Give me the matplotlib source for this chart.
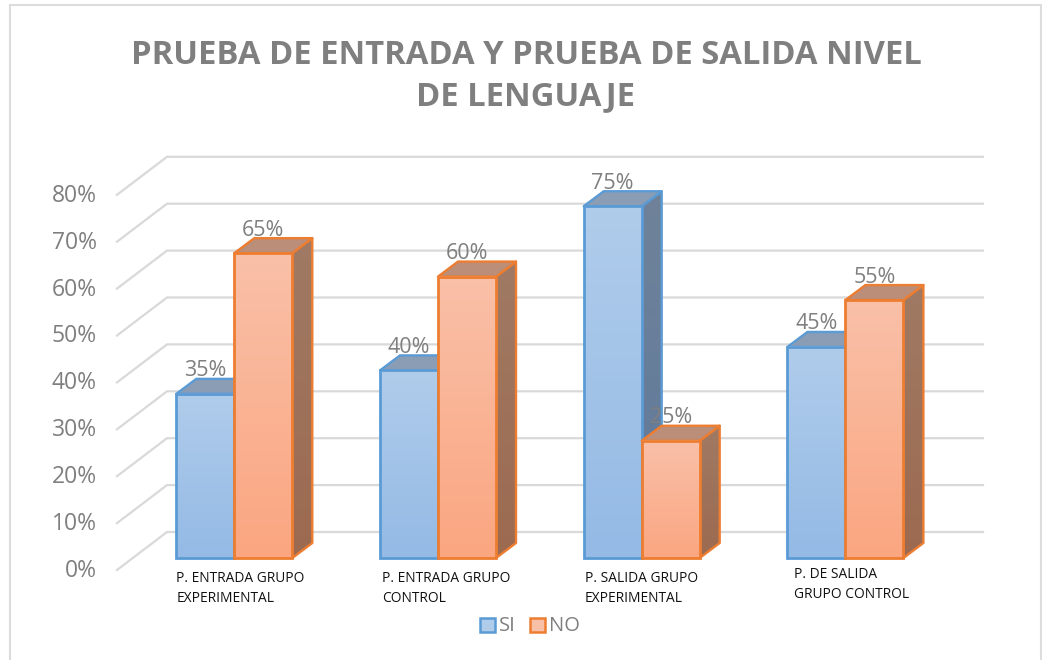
import numpy as np
import matplotlib
matplotlib.use('Agg')
import matplotlib.pyplot as plt
from matplotlib.patches import Polygon, Rectangle
from matplotlib.colors import LinearSegmentedColormap

plt.rcParams['font.family'] = ['Open Sans', 'DejaVu Sans']

categories = ['P. ENTRADA GRUPO\nEXPERIMENTAL', 'P. ENTRADA GRUPO\nCONTROL',
              'P. SALIDA GRUPO\nEXPERIMENTAL', 'P. DE SALIDA\nGRUPO CONTROL']
si_values = [35, 40, 75, 45]
no_values = [65, 60, 25, 55]
y_ticks = [0, 10, 20, 30, 40, 50, 60, 70, 80]
title = 'PRUEBA DE ENTRADA Y PRUEBA DE SALIDA NIVEL\nDE LENGUAJE'

W, H = 1042, 660
X0_PX, Y0_PX = 234.3, 558.0   # where category 0 / value 0 sit on the canvas
X_UNIT, Y_UNIT = 203.7, 4.69  # pixels per category, pixels per percent
BAR_W = 58 / X_UNIT
DX, DY = 20 / X_UNIT, 15 / Y_UNIT   # bar depth


def px_x(d):
    return d / X_UNIT


def px_y(d):
    return d / Y_UNIT


def vgrad(ax, x0, x1, y0, y1, c_bot, c_top, clip=None, z=2):
    # vertical gradient, optionally clipped to a polygon
    cmap = LinearSegmentedColormap.from_list('g', [c_bot, c_top])
    im = ax.imshow(np.linspace(0, 1, 64)[:, None], extent=(x0, x1, y0, y1), origin='lower',
                   cmap=cmap, aspect='auto', zorder=z, interpolation='bilinear')
    if clip is not None:
        im.set_clip_path(clip)
    return im


def bar3d(ax, x, v, front, side, top, edge, z):
    x1 = x + BAR_W
    side_pts = [(x1, 0), (x1 + DX, DY), (x1 + DX, v + DY), (x1, v)]
    top_pts = [(x, v), (x + DX, v + DY), (x1 + DX, v + DY), (x1, v)]
    side_poly = Polygon(side_pts, closed=True, fc='none', ec=edge, lw=1.7, zorder=z + 0.2, joinstyle='round')
    ax.add_patch(side_poly)
    vgrad(ax, x1, x1 + DX, 0, v + DY, side[0], side[1], clip=side_poly, z=z)
    ax.add_patch(Polygon(top_pts, closed=True, fc=top, ec=edge, lw=1.7, zorder=z + 0.2, joinstyle='round'))
    vgrad(ax, x, x1, 0, v, front[0], front[1], z=z + 0.3)
    ax.add_patch(Rectangle((x, 0), BAR_W, v, fc='none', ec=edge, lw=2.0, zorder=z + 0.4))


fig = plt.figure(figsize=(W / 100, H / 100), dpi=100, facecolor='white')
ax = fig.add_axes([0, 0, 1, 1])
ax.set_axis_off()

# chart frame, runs off the bottom of the picture
ax.plot([px_x(10 - X0_PX), px_x(10 - X0_PX), px_x(1041 - X0_PX), px_x(1041 - X0_PX)],
        [px_y(Y0_PX - 670), px_y(Y0_PX - 5), px_y(Y0_PX - 5), px_y(Y0_PX - 670)],
        color='#dcdcdc', lw=1.5, zorder=0, solid_joinstyle='miter')

# back wall gridlines with the slanted part on the left wall
for t in y_ticks:
    yf = px_y(Y0_PX - 570) + t
    yb = px_y(Y0_PX - 532) + t
    ax.plot([px_x(117 - X0_PX), px_x(167 - X0_PX), px_x(983 - X0_PX)], [yf, yb, yb],
            color='#d9d9d9', lw=1.6, zorder=1, solid_joinstyle='miter')
    ax.text(px_x(97 - X0_PX), yf - px_y(1), f'{t}%', ha='right', va='center',
            fontsize=16.5, color='#7f7f7f')

blue = dict(front=('#94BAE5', '#B0CCEB'), side=('#5F7A9C', '#6F8299'), top='#8A9DB5', edge='#5B9BD5')
orange = dict(front=('#FBA681', '#F9C0A8'), side=('#9C6A50', '#A07A64'), top='#BA8E78', edge='#ED7D31')

for i in range(len(categories)):
    xl = i - BAR_W
    bar3d(ax, xl, si_values[i], z=2 + i * 2, **blue)
    bar3d(ax, i, no_values[i], z=3 + i * 2, **orange)
    ax.text(xl + BAR_W / 2, si_values[i] + px_y(23), f'{si_values[i]}%', ha='center', va='center',
            fontsize=15.5, color='#7f7f7f', zorder=20)
    ax.text(i + BAR_W / 2, no_values[i] + px_y(23), f'{no_values[i]}%', ha='center', va='center',
            fontsize=15.5, color='#7f7f7f', zorder=20)

# category labels are hand placed in the original, the last one sits higher
label_dx = [0, 2, 1, 7]
label_dy = [0, 0, 0, 4]
for i, cat in enumerate(categories):
    ax.text(i - BAR_W + px_x(label_dx[i]), px_y(-13 + label_dy[i]), cat, ha='left', va='top', fontsize=9.9,
            color='#111111', linespacing=1.5)

ax.text(px_x(526 - X0_PX), px_y(Y0_PX - 76), title, ha='center', va='center', fontsize=23.6,
        fontweight='bold', color='#7f7f7f', linespacing=1.36)

# legend
for xp, key, lab in [(480, blue, 'SI'), (530, orange, 'NO')]:
    ax.add_patch(Rectangle((px_x(xp - X0_PX), px_y(Y0_PX - 632)), px_x(14.5), px_y(14.5),
                           fc=key['front'][1], ec=key['edge'], lw=1.8, zorder=5))
    ax.text(px_x(xp + 19 - X0_PX), px_y(Y0_PX - 626), lab, ha='left', va='center', fontsize=14.5, color='#7f7f7f')

ax.set_xlim(px_x(-X0_PX), px_x(W - X0_PX))
ax.set_ylim(px_y(Y0_PX - H), px_y(Y0_PX))

fig.savefig('out.png', dpi=100)
